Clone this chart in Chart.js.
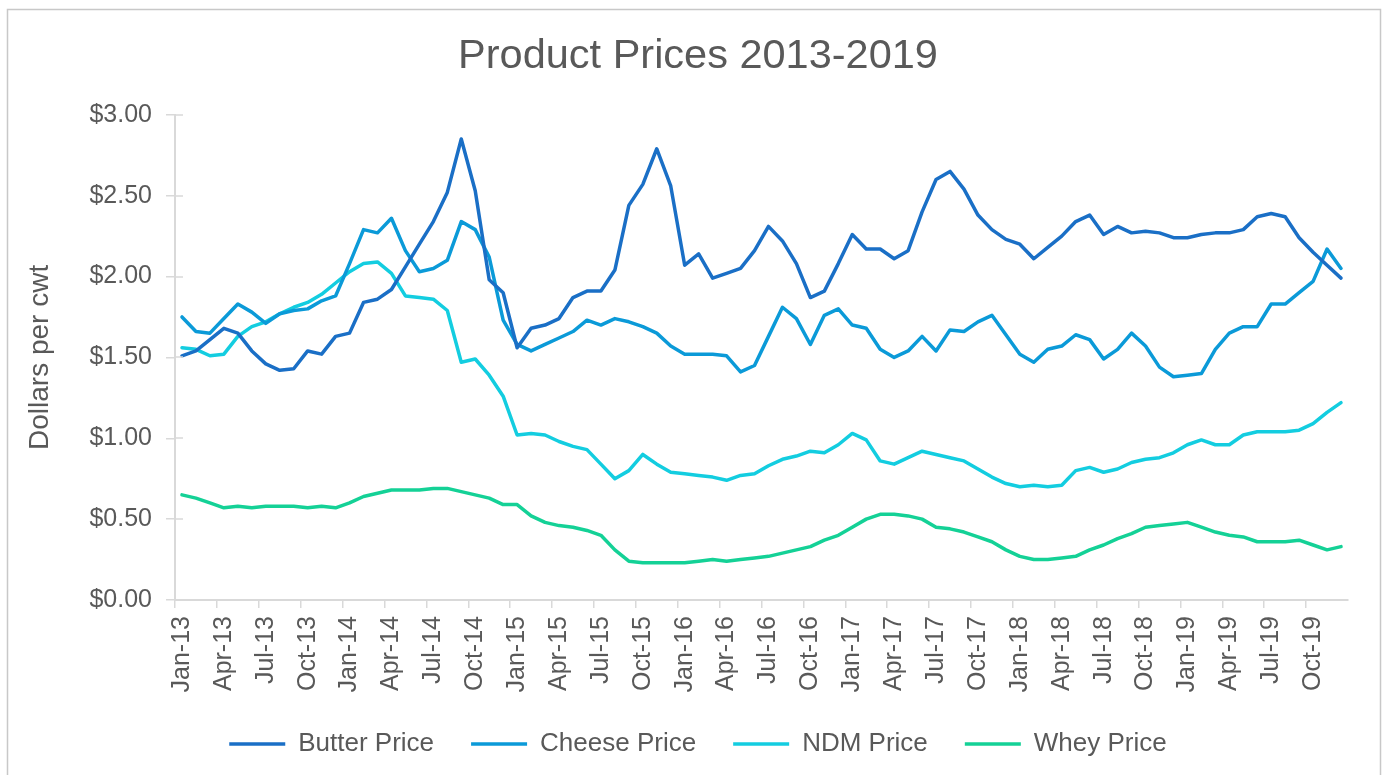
<!DOCTYPE html>
<html>
<head>
<meta charset="utf-8">
<script src="https://cdn.jsdelivr.net/npm/chart.js@4.4.1/dist/chart.umd.min.js"></script>
<style>
  html, body { margin: 0; padding: 0; background: #fff; }
  #wrap { position: relative; width: 1382px; height: 775px; }
</style>
</head>
<body>
<div id="wrap"><canvas id="priceChart"></canvas></div>
<script>
// month categories Jan-13 .. Dec-19
var months = ['Jan', 'Feb', 'Mar', 'Apr', 'May', 'Jun', 'Jul', 'Aug', 'Sep', 'Oct', 'Nov', 'Dec'];
var years = ['13', '14', '15', '16', '17', '18', '19'];
var labels = [];
years.forEach(function (y) { months.forEach(function (m) { labels.push(m + '-' + y); }); });

// prices
var butterPrice = [
  1.51, 1.54, 1.61, 1.68, 1.65, 1.54, 1.46, 1.42, 1.43, 1.54, 1.52, 1.63,
  1.65, 1.84, 1.86, 1.92, 2.06, 2.20, 2.34, 2.52, 2.85, 2.53, 1.98, 1.90,
  1.56, 1.68, 1.70, 1.74, 1.87, 1.91, 1.91, 2.04, 2.44, 2.57, 2.79, 2.56,
  2.07, 2.14, 1.99, 2.02, 2.05, 2.16, 2.31, 2.22, 2.08, 1.87, 1.91, 2.08,
  2.26, 2.17, 2.17, 2.11, 2.16, 2.40, 2.60, 2.65, 2.54, 2.38, 2.29, 2.23,
  2.20, 2.11, 2.18, 2.25, 2.34, 2.38, 2.26, 2.31, 2.27, 2.28, 2.27, 2.24,
  2.24, 2.26, 2.27, 2.27, 2.29, 2.37, 2.39, 2.37, 2.24, 2.15, 2.07, 1.99
];
var cheesePrice = [
  1.75, 1.66, 1.65, 1.74, 1.83, 1.78, 1.71, 1.77, 1.79, 1.80, 1.85, 1.88,
  2.08, 2.29, 2.27, 2.36, 2.16, 2.03, 2.05, 2.10, 2.34, 2.29, 2.12, 1.73,
  1.58, 1.54, 1.58, 1.62, 1.66, 1.73, 1.70, 1.74, 1.72, 1.69, 1.65, 1.57,
  1.52, 1.52, 1.52, 1.51, 1.41, 1.45, 1.63, 1.81, 1.74, 1.58, 1.76, 1.80,
  1.70, 1.68, 1.55, 1.50, 1.54, 1.63, 1.54, 1.67, 1.66, 1.72, 1.76, 1.64,
  1.52, 1.47, 1.55, 1.57, 1.64, 1.61, 1.49, 1.55, 1.65, 1.57, 1.44, 1.38,
  1.39, 1.40, 1.55, 1.65, 1.69, 1.69, 1.83, 1.83, 1.90, 1.97, 2.17, 2.05
];
var ndmPrice = [
  1.56, 1.55, 1.51, 1.52, 1.63, 1.69, 1.72, 1.77, 1.81, 1.84, 1.89, 1.96,
  2.03, 2.08, 2.09, 2.02, 1.88, 1.87, 1.86, 1.79, 1.47, 1.49, 1.39, 1.26,
  1.02, 1.03, 1.02, 0.98, 0.95, 0.93, 0.84, 0.75, 0.80, 0.90, 0.84, 0.79,
  0.78, 0.77, 0.76, 0.74, 0.77, 0.78, 0.83, 0.87, 0.89, 0.92, 0.91, 0.96,
  1.03, 0.99, 0.86, 0.84, 0.88, 0.92, 0.90, 0.88, 0.86, 0.81, 0.76, 0.72,
  0.70, 0.71, 0.70, 0.71, 0.80, 0.82, 0.79, 0.81, 0.85, 0.87, 0.88, 0.91,
  0.96, 0.99, 0.96, 0.96, 1.02, 1.04, 1.04, 1.04, 1.05, 1.09, 1.16, 1.22
];
var wheyPrice = [
  0.65, 0.63, 0.60, 0.57, 0.58, 0.57, 0.58, 0.58, 0.58, 0.57, 0.58, 0.57,
  0.60, 0.64, 0.66, 0.68, 0.68, 0.68, 0.69, 0.69, 0.67, 0.65, 0.63, 0.59,
  0.59, 0.52, 0.48, 0.46, 0.45, 0.43, 0.40, 0.31, 0.24, 0.23, 0.23, 0.23,
  0.23, 0.24, 0.25, 0.24, 0.25, 0.26, 0.27, 0.29, 0.31, 0.33, 0.37, 0.40,
  0.45, 0.50, 0.53, 0.53, 0.52, 0.50, 0.45, 0.44, 0.42, 0.39, 0.36, 0.31,
  0.27, 0.25, 0.25, 0.26, 0.27, 0.31, 0.34, 0.38, 0.41, 0.45, 0.46, 0.47,
  0.48, 0.45, 0.42, 0.40, 0.39, 0.36, 0.36, 0.36, 0.37, 0.34, 0.31, 0.33
];

var textColor = '#595959';
var axisColor = '#d9d9d9';
Chart.defaults.font.family = "'Liberation Sans', Arial, sans-serif";
Chart.defaults.color = textColor;

// thin gray frame round the whole chart, plus the y tick marks crossing into the plot
var chartBorder = {
  id: 'chartBorder',
  beforeDraw: function (chart) {
    var c = chart.ctx;
    c.save();
    c.strokeStyle = '#c8c8c8';
    c.lineWidth = 1.5;
    c.strokeRect(7.5, 9.5, chart.width - 9, chart.height + 10);
    c.restore();
  },
  afterDraw: function (chart) {
    var y = chart.scales.y;
    var c = chart.ctx;
    c.save();
    c.strokeStyle = axisColor;
    c.lineWidth = 1.5;
    y.ticks.forEach(function (t) {
      var py = Math.round(y.getPixelForValue(t.value));
      c.beginPath();
      c.moveTo(y.right, py);
      c.lineTo(y.right + 8, py);
      c.stroke();
    });
    c.restore();
  }
};

function line(label, data, color) {
  return {
    label: label,
    data: data,
    borderColor: color,
    backgroundColor: color,
    borderWidth: 3.5,
    pointRadius: 0,
    tension: 0,
    fill: false,
    borderJoinStyle: 'round',
    borderCapStyle: 'round'
  };
}

var ctx = document.getElementById('priceChart').getContext('2d');
var priceChart = new Chart(ctx, {
  type: 'line',
  data: {
    labels: labels,
    datasets: [
      line('Butter Price', butterPrice, '#1a6fc6'),
      line('Cheese Price', cheesePrice, '#0b9ad8'),
      line('NDM Price', ndmPrice, '#13cde0'),
      line('Whey Price', wheyPrice, '#14d196')
    ]
  },
  plugins: [chartBorder],
  options: {
    responsive: true,
    maintainAspectRatio: false,
    animation: false,
    layout: { padding: { left: 48, right: 34, top: 0, bottom: 8 } },
    scales: {
      x: {
        type: 'category',
        offset: true,
        grid: {
          offset: true,
          drawOnChartArea: false,
          drawTicks: true,
          tickLength: 8,
          lineWidth: 1.5,
          color: function (c) { return c.index % 3 === 0 ? axisColor : 'rgba(0,0,0,0)'; }
        },
        border: { color: axisColor, width: 2 },
        ticks: {
          autoSkip: false,
          maxRotation: 90,
          minRotation: 90,
          padding: 8,
          color: textColor,
          font: { size: 25 },
          callback: function (val, i) { return i % 3 === 0 ? this.getLabelForValue(val) : ''; }
        },
        afterFit: function (s) { s.height = 94; }
      },
      y: {
        min: 0,
        max: 3,
        grid: {
          drawOnChartArea: false,
          tickLength: 9,
          lineWidth: 1.5,
          color: axisColor
        },
        border: { color: axisColor, width: 2 },
        ticks: {
          stepSize: 0.5,
          padding: 14,
          color: textColor,
          font: { size: 25 },
          callback: function (v) { return '$' + v.toFixed(2); }
        },
        title: {
          display: true,
          text: 'Dollars per cwt',
          color: textColor,
          font: { size: 28 },
          padding: { top: -24.8, bottom: 0 }
        },
        afterFit: function (s) { s.width = 127; }
      }
    },
    plugins: {
      title: {
        display: true,
        text: 'Product Prices 2013-2019',
        color: textColor,
        font: { size: 41.5, weight: 'normal' },
        padding: { top: 32, bottom: 33 }
      },
      legend: {
        position: 'bottom',
        labels: {
          usePointStyle: true,
          pointStyle: 'line',
          pointStyleWidth: 56,
          padding: 37,
          color: textColor,
          font: { size: 26 }
        }
      },
      tooltip: { enabled: false }
    }
  }
});
</script>
</body>
</html>
